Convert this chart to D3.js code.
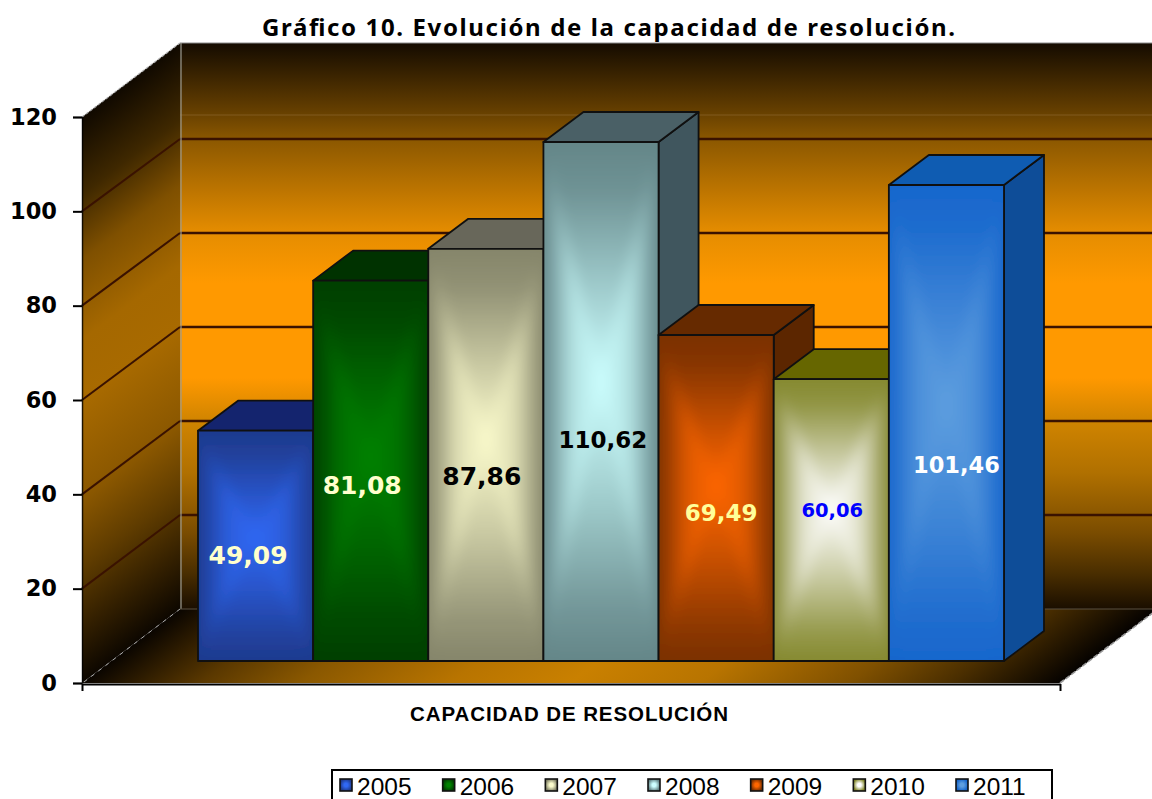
<!DOCTYPE html>
<html><head><meta charset="utf-8">
<script src="https://cdnjs.cloudflare.com/ajax/libs/d3/7.8.5/d3.min.js"></script>
<style>html,body{margin:0;padding:0;background:#fff;overflow:hidden}svg{display:block}</style>
</head><body>
<svg id="c" width="1152" height="799"></svg>
<script>
const years = ["2005","2006","2007","2008","2009","2010","2011"];
const values = [49.09,81.08,87.86,110.62,69.49,60.06,101.46];
const valueLabels = ["49,09","81,08","87,86","110,62","69,49","60,06","101,46"];
const yTicks = [0,20,40,60,80,100,120];
const titleText = "Gráfico 10. Evolución de la capacidad de resolución.";
const axisText = "CAPACIDAD DE RESOLUCIÓN";

// styling per bar: edge, centre, top, side of each column
const edgeColors = ["#1e3a8e","#003f00","#85856a","#648688","#7a3000","#85892f","#1766cc"];
const centerColors = ["#3068f4","#008200","#fbfbcc","#ccffff","#ff6600","#ffffff","#5e9edf"];
const topColors = ["#14246e","#003200","#68675a","#4a6066","#662a00","#666600","#0f5cb2"];
const sideColors = ["#14246e","#002e00","#5c5b50","#40565e","#5c2600","#5c5c00","#0e4d98"];
const labelColors = ["#ffffcc","#ffffcc","#000","#000","#ffff99","#0000ff","#ffffff"];
const labelSizes = [25,25,25,23,23,19.5,22.5];
const labelNudgeX = [-7.5,-8.5,-4,2,5,1,10];
const labelNudgeY = [9,14,21,37,14,-12,41];

const svg = d3.select("#c"), defs = svg.append("defs");
const ink = "#000";

// frame geometry of the oblique box
const W0 = 82, W1 = 1060, DX = 98, DY = 74;
const y = d3.scaleLinear().domain([0,120]).range([683,117]);
const yGrid = d3.scaleLinear().domain([0,100]).range([609,139]);
const x = d3.scaleBand().domain(years).range([198,1004]).padding(0);
const yBar = d3.scaleLinear().domain([0,120]).range([661,98]);
const BDX = 40, BDY = 30;
const poly = p => p.map(q=>q.join(",")).join(" ");

function grad(id, attrs, stops){
  const g = defs.append("linearGradient").attr("id",id).attr("gradientUnits","userSpaceOnUse");
  Object.entries(attrs).forEach(([k,v])=>g.attr(k,v));
  stops.forEach(([o,c])=>g.append("stop").attr("offset",o).attr("stop-color",c));
  return `url(#${id})`;
}
defs.append("filter").attr("id","soft").attr("filterUnits","userSpaceOnUse")
  .attr("x",0).attr("y",0).attr("width",1152).attr("height",799)
  .append("feGaussianBlur").attr("stdDeviation",7);

// back wall
const backFill = grad("back",{x1:0,x2:0,y1:43,y2:609},[
 [0,"#140b00"],[72/566,"#6a4200"],[97/566,"#8c5800"],[190/566,"#e68d00"],[240/566,"#ff9900"],
 [335/566,"#ff9900"],[378/566,"#d08400"],[430/566,"#b07000"],[490/566,"#7a4c00"],[530/566,"#4a2e00"],[1,"#1a0e00"]]);
svg.append("rect").attr("x",W0+DX).attr("y",43).attr("width",1152-W0-DX).attr("height",566).attr("fill",backFill);

// left wall
const k = DY/DX;
const leftFill = grad("left",{x1:W0,x2:W0,y1:117,y2:683,gradientTransform:`matrix(1,${-k},0,1,0,${W0*k})`},[
 [0,"#100900"],[77/566,"#3f2800"],[143/566,"#7f5000"],[223/566,"#a56800"],[283/566,"#a86a00"],
 [383/566,"#8a5700"],[450/566,"#5f3c00"],[510/566,"#342000"],[1,"#0d0700"]]);
svg.append("polygon").attr("points",poly([[W0,117],[W0+DX,43],[W0+DX,609],[W0,683]])).attr("fill",leftFill);

// floor
const r = DX/DY;
const floorFill = grad("floor",{x1:W0,x2:W1,y1:683,y2:683,gradientTransform:`matrix(1,0,${-r},1,${683*r},0)`},[
 [0,"#0a0500"],[118/978,"#5a3800"],[218/978,"#8a5800"],[368/978,"#b87400"],[488/978,"#c98000"],
 [618/978,"#b87400"],[768/978,"#7f5000"],[868/978,"#4a2e00"],[1,"#050200"]]);
svg.append("polygon").attr("points",poly([[W0,683],[W0+DX,609],[W1+DX,609],[W1,683]])).attr("fill",floorFill);

// gridlines
const gridV = yTicks.filter(v=>v>0 && v<120);
svg.append("g").selectAll("line").data(gridV).join("line")
  .attr("x1",W0+DX).attr("x2",1152).attr("y1",d=>yGrid(d)).attr("y2",d=>yGrid(d))
  .attr("stroke","#3a1200").attr("stroke-width",2.6);
svg.append("g").selectAll("line").data(gridV).join("line")
  .attr("x1",W0).attr("x2",W0+DX).attr("y1",d=>y(d)).attr("y2",d=>yGrid(d))
  .attr("stroke","#3a1200").attr("stroke-width",2.1);

// box edge lines
const frame = svg.append("g").attr("fill","none");
frame.append("line").attr("x1",W0+DX).attr("x2",1152).attr("y1",43).attr("y2",43).attr("stroke","#8a8a8a").attr("stroke-width",1);
frame.append("line").attr("x1",W0+DX+1).attr("x2",W0+DX+1).attr("y1",43).attr("y2",609).attr("stroke","#9a9a90").attr("stroke-width",1.2);
frame.append("line").attr("x1",W0+DX).attr("x2",1152).attr("y1",115).attr("y2",115).attr("stroke","#b09060").attr("stroke-opacity",.4).attr("stroke-width",.8);
frame.append("line").attr("x1",W0+DX).attr("x2",1152).attr("y1",609).attr("y2",609).attr("stroke","#5a5040").attr("stroke-width",1);
frame.append("line").attr("x1",W0).attr("x2",W0+DX).attr("y1",117).attr("y2",43).attr("stroke","#aaa").attr("stroke-width",1.2).attr("stroke-dasharray","3 2");
frame.append("line").attr("x1",W0+2).attr("x2",W0+DX).attr("y1",682).attr("y2",609).attr("stroke","#aaa").attr("stroke-width",1).attr("stroke-dasharray","4 5");
frame.append("line").attr("x1",W1).attr("x2",W1+DX).attr("y1",683).attr("y2",609).attr("stroke","#999").attr("stroke-width",1.6).attr("stroke-dasharray","5 2");

// bars
const shade = (a,b,t)=>d3.interpolateRgb(a,b)(t);
const rampH = [[0,0],[.2,.3],[.5,.75],[1,1]];
const bars = svg.append("g");
years.forEach((yr,i)=>{
  const x0 = x(yr), x1 = x0 + x.bandwidth(), t = yBar(values[i]), b = yBar(0);
  const cx = (x0+x1)/2, cy = t + (b-t)*.46;
  const ec = edgeColors[i], cc = centerColors[i];
  const g = bars.append("g").attr("stroke-linejoin","round");
  g.append("polygon").attr("points",poly([[x1,t],[x1+BDX,t-BDY],[x1+BDX,b-BDY],[x1,b]]))
    .attr("fill",sideColors[i]).attr("stroke","#101010").attr("stroke-width",1.8);
  g.append("polygon").attr("points",poly([[x0,t],[x0+BDX,t-BDY],[x1+BDX,t-BDY],[x1,t]]))
    .attr("fill",topColors[i]).attr("stroke","#101010").attr("stroke-width",1.8);
  defs.append("clipPath").attr("id","face"+i).append("rect")
    .attr("x",x0).attr("y",t).attr("width",x1-x0).attr("height",b-t);
  const m = (cy-t)/(b-t);
  const vs = [[0,ec],[.2*m,shade(ec,cc,.1)],[.55*m,shade(ec,cc,.5)],[m,cc],
              [m+.45*(1-m),shade(ec,cc,.55)],[m+.8*(1-m),shade(ec,cc,.15)],[1,ec]];
  const vf = grad("v"+i,{x1:0,x2:0,y1:t,y2:b},vs);
  const face = g.append("g").attr("clip-path",`url(#face${i})`).append("g").attr("filter","url(#soft)");
  face.append("rect").attr("x",x0-30).attr("y",t-30).attr("width",x1-x0+60).attr("height",b-t+60).attr("fill",ec);
  face.append("rect").attr("x",x0).attr("y",t).attr("width",x1-x0).attr("height",b-t).attr("fill",vf);
  const lf = grad("l"+i,{x1:x0,x2:cx,y1:0,y2:0},rampH.map(([o,q])=>[o,shade(ec,cc,q)]));
  const rf = grad("r"+i,{x1:x1,x2:cx,y1:0,y2:0},rampH.map(([o,q])=>[o,shade(ec,cc,q)]));
  face.append("polygon").attr("points",poly([[x0,t],[cx,cy],[x0,b]])).attr("fill",lf);
  face.append("polygon").attr("points",poly([[x1,t],[cx,cy],[x1,b]])).attr("fill",rf);
  g.append("rect").attr("x",x0).attr("y",t).attr("width",x1-x0).attr("height",b-t)
    .attr("fill","none").attr("stroke","#101010").attr("stroke-width",1.8);
});

// value labels
svg.append("g").selectAll("text").data(years).join("text")
  .attr("x",(d,i)=>x(d)+x.bandwidth()/2+labelNudgeX[i])
  .attr("y",(d,i)=>(yBar(values[i])+yBar(0))/2+labelNudgeY[i]+9)
  .attr("text-anchor","middle")
  .attr("font-family","'DejaVu Sans'").attr("font-weight","bold")
  .attr("font-size",(d,i)=>labelSizes[i]).attr("fill",(d,i)=>labelColors[i])
  .text((d,i)=>valueLabels[i]);

// axes
const yAxis = svg.append("g").attr("transform",`translate(${W0},0)`)
  .call(d3.axisLeft(y).tickValues(yTicks).tickSize(9).tickPadding(16).tickFormat(d3.format("d")));
yAxis.select(".domain").attr("stroke","#000").attr("stroke-width",1.5).attr("stroke-opacity",.8);
yAxis.selectAll(".tick line").attr("stroke",ink).attr("stroke-width",2);
yAxis.selectAll("text").attr("font-family","'DejaVu Sans'").attr("font-weight","bold").attr("font-size",22.5).attr("fill",ink);

const xAxis = d3.scaleLinear().domain([0,1]).range([W0,W1]);
svg.append("g").attr("transform","translate(0,684)")
  .call(d3.axisBottom(xAxis).tickValues([0,1]).tickSize(7).tickSizeOuter(0).tickFormat(""))
  .call(g=>g.select(".domain").attr("stroke",ink).attr("stroke-width",2))
  .call(g=>g.selectAll("line").attr("stroke",ink).attr("stroke-width",2));

// title, axis title
svg.append("text").attr("x",262).attr("y",36)
  .attr("font-family","'Noto Sans'").attr("font-weight","bold").attr("font-size",24)
  .attr("textLength",693).attr("lengthAdjust","spacing").attr("fill",ink).text(titleText);
svg.append("text").attr("x",410).attr("y",721)
  .attr("font-family","'Liberation Sans'").attr("font-weight","bold").attr("font-size",20.5)
  .attr("textLength",318).attr("lengthAdjust","spacing").attr("fill",ink).text(axisText);

// legend
svg.append("rect").attr("x",332).attr("y",770).attr("width",720).attr("height",60)
  .attr("fill","#fff").attr("stroke",ink).attr("stroke-width",2);
const lx = d3.scalePoint().domain(years).range([340,956]);
const leg = svg.append("g").selectAll("g").data(years).join("g")
  .attr("transform",d=>`translate(${lx(d)},0)`);
years.forEach((yr,i)=>{
  const id = "sw"+i;
  const g = defs.append("radialGradient").attr("id",id);
  g.append("stop").attr("offset",.3).attr("stop-color",centerColors[i]);
  g.append("stop").attr("offset",1).attr("stop-color",edgeColors[i]);
});
leg.append("rect").attr("x",0).attr("y",779).attr("width",12).attr("height",12)
  .attr("fill",(d,i)=>`url(#sw${i})`).attr("stroke","#111").attr("stroke-width",1.6);
leg.append("text").attr("x",17).attr("y",795)
  .attr("font-family","'Liberation Sans'").attr("font-size",24.5).attr("fill",ink).text(d=>d);
</script>
</body></html>
